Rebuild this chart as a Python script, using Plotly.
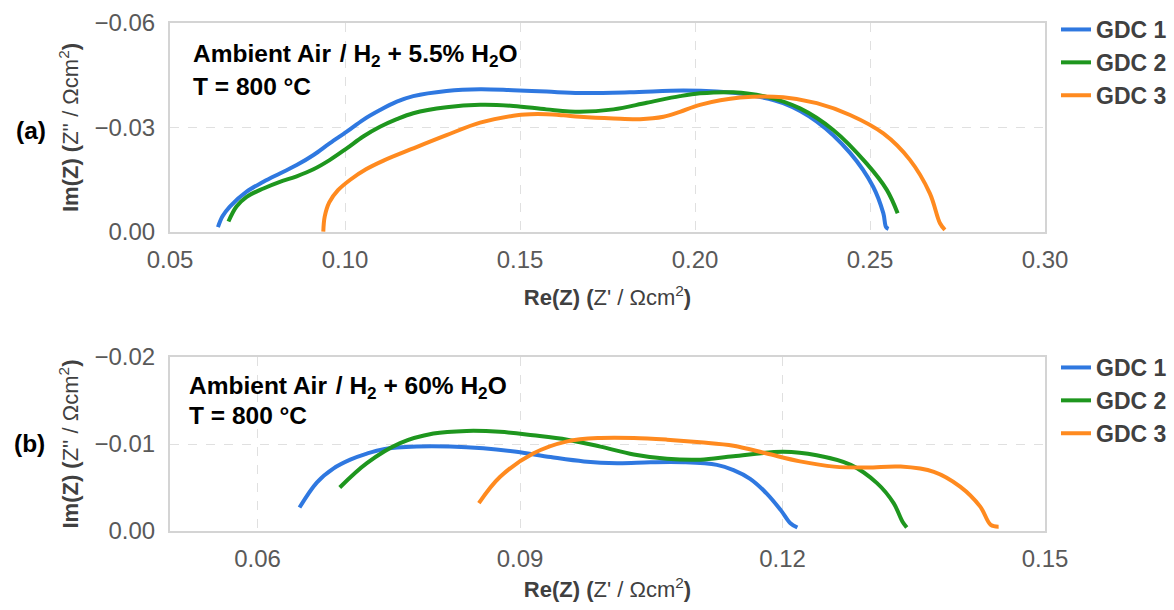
import plotly.graph_objects as go

series_names = ["GDC 1", "GDC 2", "GDC 3"]
colors = ["#2F78E0", "#1E961E", "#FF8A1F"]

# Panel (a): Ambient Air / H2 + 5.5% H2O
a_gdc1_re = [0.0637, 0.0650, 0.0671, 0.0719, 0.0767, 0.0814, 0.0862, 0.0910, 0.0957, 0.1005, 0.1052,
             0.1100, 0.1148, 0.1195, 0.1290, 0.1386, 0.1480, 0.1576, 0.1671, 0.1814, 0.1966, 0.2062,
             0.2157, 0.2252, 0.2348, 0.2443, 0.2509, 0.2538, 0.2546, 0.2553]
a_gdc1_im = [-0.0014, -0.0045, -0.0073, -0.0116, -0.0144, -0.0168, -0.0192, -0.0221, -0.0255, -0.0288, -0.0322,
             -0.0350, -0.0374, -0.0390, -0.0405, -0.0410, -0.0407, -0.0403, -0.0399, -0.0401, -0.0406, -0.0403,
             -0.0393, -0.0370, -0.0317, -0.0227, -0.0130, -0.0054, -0.0014, -0.0009]
a_gdc2_re = [0.0667, 0.0690, 0.0719, 0.0767, 0.0814, 0.0862, 0.0910, 0.0957, 0.1005, 0.1052, 0.1100,
             0.1148, 0.1195, 0.1290, 0.1386, 0.1481, 0.1576, 0.1671, 0.1767, 0.1862, 0.1957, 0.2014,
             0.2109, 0.2205, 0.2300, 0.2395, 0.2490, 0.2548, 0.2579]
a_gdc2_im = [-0.0030, -0.0073, -0.0101, -0.0125, -0.0144, -0.0160, -0.0180, -0.0207, -0.0240, -0.0274, -0.0302,
             -0.0324, -0.0341, -0.0358, -0.0365, -0.0362, -0.0352, -0.0345, -0.0352, -0.0371, -0.0390, -0.0398,
             -0.0401, -0.0388, -0.0355, -0.0293, -0.0197, -0.0121, -0.0054]
a_gdc3_re = [0.0938, 0.0942, 0.0955, 0.0980, 0.1015, 0.1060, 0.1110, 0.1195, 0.1290, 0.1386, 0.1481,
             0.1529, 0.1576, 0.1624, 0.1671, 0.1767, 0.1843, 0.1910, 0.1957, 0.2014, 0.2129, 0.2252,
             0.2348, 0.2443, 0.2538, 0.2614, 0.2671, 0.2700, 0.2714]
a_gdc3_im = [-0.0001, -0.0044, -0.0085, -0.0120, -0.0150, -0.0180, -0.0205, -0.0240, -0.0278, -0.0314, -0.0334,
             -0.0338, -0.0338, -0.0335, -0.0331, -0.0326, -0.0324, -0.0331, -0.0345, -0.0365, -0.0386, -0.0387,
             -0.0370, -0.0336, -0.0283, -0.0207, -0.0111, -0.0025, -0.0006]

# Panel (b): Ambient Air / H2 + 60% H2O
b_gdc1_re = [0.0648, 0.0668, 0.0687, 0.0706, 0.0725, 0.0744, 0.0782, 0.0820, 0.0858, 0.0896, 0.0935,
             0.0973, 0.1011, 0.1049, 0.1087, 0.1125, 0.1144, 0.1163, 0.1182, 0.1198, 0.1209, 0.1217]
b_gdc1_im = [-0.0027, -0.0056, -0.0072, -0.0082, -0.0089, -0.0094, -0.0097, -0.0097, -0.0095, -0.0091, -0.0085,
             -0.0080, -0.0078, -0.0079, -0.0079, -0.0076, -0.0070, -0.0060, -0.0043, -0.0024, -0.0009, -0.0004]
b_gdc2_re = [0.0694, 0.0725, 0.0763, 0.0801, 0.0839, 0.0877, 0.0915, 0.0954, 0.0992, 0.1030, 0.1068,
             0.1106, 0.1144, 0.1201, 0.1239, 0.1278, 0.1308, 0.1327, 0.1337, 0.1342]
b_gdc2_im = [-0.0050, -0.0078, -0.0101, -0.0112, -0.0115, -0.0114, -0.0110, -0.0105, -0.0097, -0.0088, -0.0083,
             -0.0082, -0.0086, -0.0091, -0.0087, -0.0076, -0.0055, -0.0032, -0.0011, -0.0004]
b_gdc3_re = [0.0853, 0.0877, 0.0915, 0.0954, 0.0992, 0.1030, 0.1068, 0.1106, 0.1144, 0.1182, 0.1220,
             0.1259, 0.1297, 0.1335, 0.1373, 0.1403, 0.1426, 0.1438, 0.1447]
b_gdc3_im = [-0.0032, -0.0062, -0.0089, -0.0103, -0.0107, -0.0107, -0.0105, -0.0102, -0.0098, -0.0089, -0.0080,
             -0.0074, -0.0073, -0.0074, -0.0068, -0.0051, -0.0028, -0.0007, -0.0005]

a_x_ticks = [0.05, 0.10, 0.15, 0.20, 0.25, 0.30]
a_y_ticks = [-0.06, -0.03, 0.00]
b_x_ticks = [0.06, 0.09, 0.12, 0.15]
b_y_ticks = [-0.02, -0.01, 0.00]

FONT = "Liberation Sans, Arial, sans-serif"
GRAY = "#595959"
DARK = "#404040"

fig = go.Figure()
panel_a = [(a_gdc1_re, a_gdc1_im), (a_gdc2_re, a_gdc2_im), (a_gdc3_re, a_gdc3_im)]
panel_b = [(b_gdc1_re, b_gdc1_im), (b_gdc2_re, b_gdc2_im), (b_gdc3_re, b_gdc3_im)]
for i, (xs, ys) in enumerate(panel_a):
    fig.add_trace(go.Scatter(x=xs, y=ys, mode="lines", name=series_names[i],
                             line=dict(color=colors[i], width=4, shape="spline", smoothing=1.0),
                             xaxis="x", yaxis="y", legend="legend"))
for i, (xs, ys) in enumerate(panel_b):
    fig.add_trace(go.Scatter(x=xs, y=ys, mode="lines", name=series_names[i],
                             line=dict(color=colors[i], width=4, shape="spline", smoothing=1.0),
                             xaxis="x2", yaxis="y2", legend="legend2"))

axis_common = dict(
    showline=True, linecolor="#D4D4D4", linewidth=2, mirror=True,
    showgrid=True, gridcolor="#E0E0E0", griddash="dash", gridwidth=1,
    zeroline=False, ticks="", tickfont=dict(family=FONT, size=24, color=GRAY),
    automargin=False,
)
xtitle = "<b>Re(Z) (</b>Z' / Ωcm<sup>2</sup><b>)</b>"
ytitle = "<b>Im(Z) (</b>Z'' / Ωcm<sup>2</sup><b>)</b>"
title_font = dict(family=FONT, size=22, color=DARK)

fig.update_layout(
    width=1174, height=610,
    margin=dict(l=170, r=129, t=23, b=79, autoexpand=False),
    paper_bgcolor="white", plot_bgcolor="white",
    showlegend=True,
    xaxis=dict(axis_common, domain=[0, 1], anchor="y", range=[0.05, 0.30],
               tickvals=a_x_ticks, tickformat=".2f", ticklabelstandoff=5,
               title=dict(text=xtitle, font=title_font, standoff=18)),
    yaxis=dict(axis_common, domain=[0.5886, 1], anchor="x", range=[0, -0.06],
               tickvals=a_y_ticks, tickformat=".2f", ticklabelstandoff=8,
               title=dict(text=ytitle, font=title_font, standoff=10)),
    xaxis2=dict(axis_common, domain=[0, 1], anchor="y2", range=[0.05, 0.15],
                tickvals=b_x_ticks, tickformat=".2f", ticklabelstandoff=5,
                title=dict(text=xtitle, font=title_font, standoff=11)),
    yaxis2=dict(axis_common, domain=[0, 0.3425], anchor="x2", range=[0, -0.02],
                tickvals=b_y_ticks, tickformat=".2f", ticklabelstandoff=8,
                title=dict(text=ytitle, font=title_font, standoff=10)),
    legend=dict(xref="container", yref="container", x=1056 / 1174, y=1 - 8 / 610,
                xanchor="left", yanchor="top", bgcolor="rgba(0,0,0,0)",
                font=dict(family=FONT, size=23, color=DARK, weight="bold"),
                tracegroupgap=0, itemwidth=30),
    legend2=dict(xref="container", yref="container", x=1056 / 1174, y=1 - 346 / 610,
                 xanchor="left", yanchor="top", bgcolor="rgba(0,0,0,0)",
                 font=dict(family=FONT, size=23, color=DARK, weight="bold"),
                 tracegroupgap=0, itemwidth=30),
)

ann_font = dict(family=FONT, size=24.5, color="black", weight="bold")
annotations = [
    dict(text="Ambient Air \u200a/ H<sub>2</sub> + 5.5% H<sub>2</sub>O", x=191, y=55),
    dict(text="T = 800 °C", x=191, y=86),
    dict(text="Ambient Air \u200a/ H<sub>2</sub> + 60% H<sub>2</sub>O", x=187, y=387),
    dict(text="T = 800 °C", x=187, y=415),
    dict(text="(a)", x=14, y=130),
    dict(text="(b)", x=12, y=443),
]
for a in annotations:
    fig.add_annotation(text=a["text"], xref="paper", yref="paper",
                       x=(a["x"] - 170) / (1174 - 170 - 129), y=(531 - a["y"]) / (610 - 23 - 79),
                       xanchor="left", yanchor="middle", showarrow=False, font=ann_font)

fig.write_html("out.html", config={"displayModeBar": False},
               post_script="document.body.style.margin='0';")
